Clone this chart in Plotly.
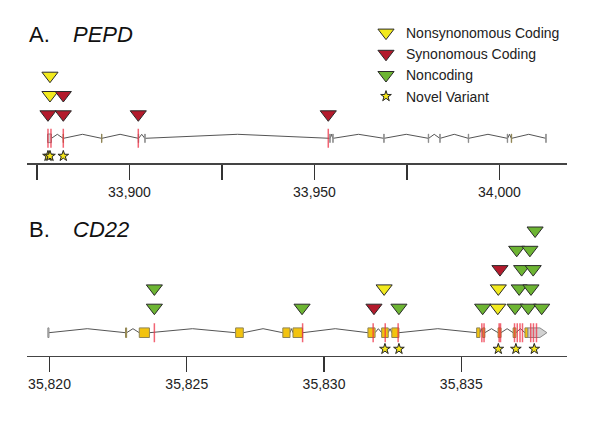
import plotly.graph_objects as go

# ------------------------------------------------------------------ data
# Panel A: PEPD (positions in kb)
PEPD_TICK_VALS = [33875, 33900, 33925, 33950, 33975, 34000]
PEPD_TICK_TEXT = ["", "33,900", "", "33,950", "", "34,000"]
PEPD_EXON_START = [33877.84, 33882.06, 33892.44, 33902.38, 33904.14, 33954.14, 33954.95,
                   33968.73, 33980.76, 33983.87, 33991.57, 34002.11, 34003.19, 34012.52]
PEPD_EXON_END = [33878.92, 33882.16, 33892.54, 33902.48, 33904.24, 33954.24, 33955.05,
                 33968.83, 33980.86, 33983.97, 33991.67, 34002.21, 34003.29, 34012.62]
PEPD_EXON_KIND = ["noncoding", "coding", "coding", "noncoding", "noncoding", "noncoding", "noncoding",
                  "noncoding", "noncoding", "noncoding", "noncoding", "noncoding", "coding", "noncoding"]
PEPD_VAR_POS = [33877.97, 33878.51, 33878.51, 33882.11, 33882.11, 33902.38, 33953.73]
PEPD_VAR_TYPE = ["Synonomous Coding", "Nonsynonomous Coding", "Nonsynonomous Coding",
                 "Synonomous Coding", "Synonomous Coding", "Synonomous Coding", "Synonomous Coding"]
PEPD_VAR_TIER = [1, 2, 3, 1, 2, 1, 1]
PEPD_SITE_POS = [33877.97, 33878.78, 33882.11, 33902.38, 33953.73]
PEPD_NOVEL_POS = [33877.97, 33878.51, 33882.11]

# Panel B: CD22 (positions in kb)
CD22_TICK_VALS = [35820, 35825, 35830, 35835]
CD22_TICK_TEXT = ["35,820", "35,825", "35,830", "35,835"]
CD22_EXON_START = [35819.94, 35822.77, 35823.27, 35826.78, 35828.50, 35828.87, 35831.60, 35832.10,
                   35832.47, 35835.56, 35835.78, 35836.34, 35836.89, 35837.32, 35837.43]
CD22_EXON_END = [35819.98, 35822.81, 35823.64, 35827.06, 35828.76, 35829.22, 35831.86, 35832.34,
                 35832.73, 35835.68, 35835.86, 35836.45, 35836.99, 35837.43, 35838.12]
CD22_EXON_KIND = ["noncoding", "coding", "coding", "coding", "coding", "coding", "coding", "coding",
                  "coding", "coding", "coding", "coding", "coding", "coding", "utr3"]
CD22_VAR_POS = [35823.82, 35823.82, 35829.20, 35831.82, 35832.19, 35832.73,
                35835.78, 35836.33, 35836.96, 35837.44, 35837.93,
                35836.35, 35837.11, 35837.54,
                35836.41, 35837.20, 35837.62,
                35837.02, 35837.50,
                35837.69]
CD22_VAR_TYPE = ["Noncoding", "Noncoding", "Noncoding", "Synonomous Coding", "Nonsynonomous Coding", "Noncoding",
                 "Noncoding", "Nonsynonomous Coding", "Noncoding", "Noncoding", "Noncoding",
                 "Nonsynonomous Coding", "Noncoding", "Noncoding",
                 "Synonomous Coding", "Noncoding", "Noncoding",
                 "Noncoding", "Noncoding",
                 "Noncoding"]
CD22_VAR_TIER = [1, 2, 1, 1, 2, 1,
                 1, 1, 1, 1, 1,
                 2, 2, 2,
                 3, 3, 3,
                 4, 4,
                 5]
CD22_SITE_POS = [35823.82, 35829.22, 35831.79, 35832.23, 35832.70, 35835.75, 35835.83, 35836.38,
                 35836.43, 35836.94, 35837.04, 35837.14, 35837.23, 35837.53, 35837.63, 35837.74]
CD22_NOVEL_POS = [35832.22, 35832.73, 35836.35, 35836.99, 35837.66]

VAR_TYPES = ["Nonsynonomous Coding", "Synonomous Coding", "Noncoding"]

# ------------------------------------------------------------------ style
W, H = 600, 428
FONT = "Arial, 'Liberation Sans', sans-serif"
VAR_COLORS = {"Nonsynonomous Coding": "#f2ea1e", "Synonomous Coding": "#b31a2c", "Noncoding": "#6db533"}
INTRON_COLOR = "#555555"
SITE_COLOR = "rgba(238,50,70,0.75)"
CODING_FILL, CODING_LINE = "#f2c30f", "#8f8556"
NONCODING_FILL, NONCODING_LINE = "#d2d2d2", "#8a8a8a"
AXIS_X0, AXIS_X1 = 27, 567

panels = [
    dict(name="A", gene="PEPD", axis_px=163.3, xrange=(33872.30, 34018.25),
         ticks=(PEPD_TICK_VALS, PEPD_TICK_TEXT), exons=(PEPD_EXON_START, PEPD_EXON_END, PEPD_EXON_KIND),
         vars=(PEPD_VAR_POS, PEPD_VAR_TYPE, PEPD_VAR_TIER), sites=PEPD_SITE_POS, novel=PEPD_NOVEL_POS,
         gene_y=25.0, tier1=49.0, half=4.3, star_y=7.3, title_y=35),
    dict(name="B", gene="CD22", axis_px=355.7, xrange=(35819.180, 35838.852),
         ticks=(CD22_TICK_VALS, CD22_TICK_TEXT), exons=(CD22_EXON_START, CD22_EXON_END, CD22_EXON_KIND),
         vars=(CD22_VAR_POS, CD22_VAR_TYPE, CD22_VAR_TIER), sites=CD22_SITE_POS, novel=CD22_NOVEL_POS,
         gene_y=23.0, tier1=48.0, half=4.8, star_y=6.7, title_y=229),
]
TIER_GAP = 19.3
HAT = 4.0
YSPAN = 140.0

fig = go.Figure()
layout = dict(width=W, height=H, margin=dict(l=0, r=0, t=0, b=0), autosize=False,
              paper_bgcolor="white", plot_bgcolor="white", font=dict(family=FONT, color="#222"))
annotations = []
legend_shown = set()
rank = {"Nonsynonomous Coding": 1, "Synonomous Coding": 2, "Noncoding": 3}

for i, p in enumerate(panels):
    sfx = "" if i == 0 else str(i + 1)
    xa, ya = "x" + sfx, "y" + sfx
    bottom = (H - p["axis_px"]) / H
    top = (H - p["axis_px"] + YSPAN) / H
    x0, x1 = p["xrange"]
    upx = (x1 - x0) / (AXIS_X1 - AXIS_X0)  # kb per pixel
    layout["xaxis" + sfx] = dict(domain=[AXIS_X0 / W, AXIS_X1 / W], range=[x0, x1], anchor=ya,
                                 showgrid=False, zeroline=False, showline=True, linecolor="#444",
                                 linewidth=1.6, ticks="outside", ticklen=15, tickwidth=1.3,
                                 tickcolor="#333", tickvals=p["ticks"][0], ticktext=p["ticks"][1],
                                 tickfont=dict(size=14, family=FONT, color="#222"), fixedrange=True)
    layout["yaxis" + sfx] = dict(domain=[bottom, top], range=[0, YSPAN], anchor=xa, visible=False,
                                 fixedrange=True)

    starts, ends, kinds = p["exons"]
    gy, hh = p["gene_y"], p["half"]
    # introns as hats
    ix, iy = [], []
    for k in range(len(starts) - 1):
        a, b = ends[k], starts[k + 1]
        if b - a <= 1e-6:
            continue
        ix += [a, (a + b) / 2, b, None]
        iy += [gy, gy + HAT, gy, None]
    fig.add_trace(go.Scatter(x=ix, y=iy, mode="lines", line=dict(color=INTRON_COLOR, width=1),
                             hoverinfo="skip", showlegend=False, xaxis=xa, yaxis=ya))
    # exons
    for kind_set, fill, line in [(("coding",), CODING_FILL, CODING_LINE),
                                 (("noncoding", "utr3"), NONCODING_FILL, NONCODING_LINE)]:
        ex, ey = [], []
        for s, e, k in zip(starts, ends, kinds):
            if k not in kind_set:
                continue
            if k == "utr3":
                tip = min(7 * upx, (e - s) / 2)
                ex += [s, e - tip, e, e - tip, s, s, None]
                ey += [gy - hh, gy - hh, gy, gy + hh, gy + hh, gy - hh, None]
            else:
                ex += [s, e, e, s, s, None]
                ey += [gy - hh, gy - hh, gy + hh, gy + hh, gy - hh, None]
        if ex:
            fig.add_trace(go.Scatter(x=ex, y=ey, mode="lines", fill="toself", fillcolor=fill,
                                     line=dict(color=line, width=1), hoverinfo="skip",
                                     showlegend=False, xaxis=xa, yaxis=ya))
    # variant site lines
    sx, sy = [], []
    for s in p["sites"]:
        sx += [s, s, None]
        sy += [gy - 9.5, gy + 9.5, None]
    fig.add_trace(go.Scatter(x=sx, y=sy, mode="lines", line=dict(color=SITE_COLOR, width=1.5),
                             hoverinfo="skip", showlegend=False, xaxis=xa, yaxis=ya))
    # triangles
    pos, typ, tier = p["vars"]
    for t in VAR_TYPES:
        px_ = [x for x, tt in zip(pos, typ) if tt == t]
        py_ = [p["tier1"] + (tr - 1) * TIER_GAP for tr, tt in zip(tier, typ) if tt == t]
        if not px_:
            continue
        show = t not in legend_shown
        legend_shown.add(t)
        fig.add_trace(go.Scatter(x=px_, y=py_, mode="markers", name=t, legendrank=rank[t],
                                 marker=dict(symbol="triangle-down", size=14, color=VAR_COLORS[t],
                                             line=dict(color="#2a2a2a", width=1)),
                                 cliponaxis=False, showlegend=show, xaxis=xa, yaxis=ya))
    # novel variant stars
    fig.add_trace(go.Scatter(x=p["novel"], y=[p["star_y"]] * len(p["novel"]), mode="markers",
                             name="Novel Variant", legendrank=4,
                             marker=dict(symbol="star", size=8, color="#f5e61a",
                                         line=dict(color="#222", width=1)),
                             cliponaxis=False, showlegend=(i == 0), xaxis=xa, yaxis=ya))

    annotations.append(dict(text=p["name"] + ".", x=AXIS_X0 / W, y=1 - p["title_y"] / H,
                            xref="paper", yref="paper", xanchor="left", yanchor="middle",
                            showarrow=False, font=dict(size=22, family=FONT, color="#111")))
    annotations.append(dict(text="<i>" + p["gene"] + "</i>", x=71 / W, y=1 - p["title_y"] / H,
                            xref="paper", yref="paper", xanchor="left", yanchor="middle",
                            showarrow=False, font=dict(size=22, family=FONT, color="#111")))

layout["annotations"] = annotations
layout["legend"] = dict(x=366 / W, y=1 - 17 / H, xanchor="left", yanchor="top",
                        font=dict(size=14, family=FONT, color="#222"), bgcolor="rgba(0,0,0,0)",
                        tracegroupgap=0, itemwidth=30)
layout["showlegend"] = True
fig.update_layout(**layout)
fig.write_html("out.html", config={"displayModeBar": False, "staticPlot": True},
               post_script="document.body.style.margin='0';document.body.style.overflow='hidden';")
